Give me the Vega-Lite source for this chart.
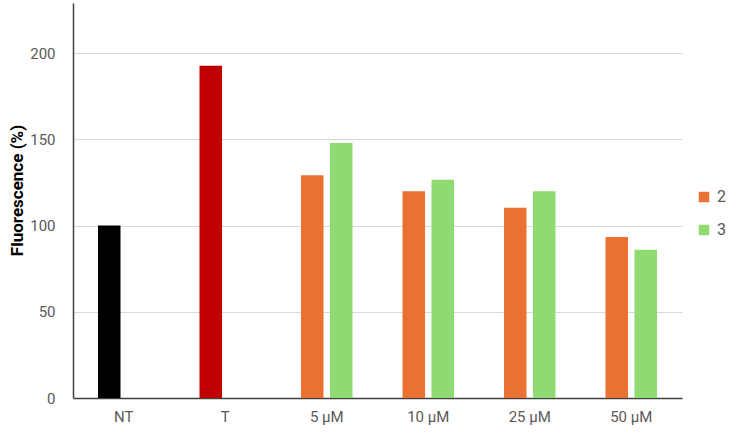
{
  "$schema": "https://vega.github.io/schema/vega-lite/v6.json",
  "width": 609,
  "height": 395,
  "autosize": {"type": "none"},
  "padding": {"left": 73, "top": 3, "right": 55, "bottom": 35},
  "background": "white",
  "config": {
    "view": {"stroke": null},
    "font": "Roboto"
  },
  "data": {
    "values": [
      {"category": "NT", "series": "NT", "slot": "a", "value": 100},
      {"category": "T", "series": "T", "slot": "a", "value": 192.6},
      {"category": "5 µM", "series": "2", "slot": "a", "value": 129.1},
      {"category": "5 µM", "series": "3", "slot": "b", "value": 147.9},
      {"category": "10 µM", "series": "2", "slot": "a", "value": 119.8},
      {"category": "10 µM", "series": "3", "slot": "b", "value": 126.6},
      {"category": "25 µM", "series": "2", "slot": "a", "value": 110.3},
      {"category": "25 µM", "series": "3", "slot": "b", "value": 119.8},
      {"category": "50 µM", "series": "2", "slot": "a", "value": 93.4},
      {"category": "50 µM", "series": "3", "slot": "b", "value": 85.9}
    ]
  },
  "mark": {"type": "bar"},
  "encoding": {
    "x": {
      "field": "category",
      "type": "nominal",
      "sort": ["NT", "T", "5 µM", "10 µM", "25 µM", "50 µM"],
      "scale": {"paddingInner": 0, "paddingOuter": 0},
      "axis": {
        "title": null,
        "labelAngle": 0,
        "ticks": false,
        "labelPadding": 11,
        "labelFontSize": 15,
        "labelColor": "#595959",
        "domainColor": "#404040",
        "domainWidth": 1.5
      }
    },
    "xOffset": {
      "field": "slot",
      "type": "nominal",
      "scale": {"domain": ["a", "b"], "paddingInner": 0.224, "paddingOuter": 0.862}
    },
    "y": {
      "field": "value",
      "type": "quantitative",
      "scale": {"domain": [0, 229], "nice": false},
      "axis": {
        "title": "Fluorescence (%)",
        "values": [0, 50, 100, 150, 200],
        "ticks": false,
        "labelPadding": 18,
        "labelFontSize": 15,
        "labelColor": "#595959",
        "gridColor": "#d9d9d9",
        "domainColor": "#404040",
        "domainWidth": 1.5,
        "titleFontSize": 17,
        "titleFontWeight": "bold",
        "titleColor": "#000000",
        "titleX": -56,
        "titleY": 187,
        "titleAngle": -90,
        "titleAlign": "center",
        "titleBaseline": "middle"
      }
    },
    "color": {
      "field": "series",
      "type": "nominal",
      "scale": {
        "domain": ["NT", "T", "2", "3"],
        "range": ["#000000", "#C00000", "#EB7132", "#8FDB71"]
      },
      "legend": {
        "title": null,
        "values": ["2", "3"],
        "orient": "none",
        "legendX": 623,
        "legendY": 186,
        "symbolType": "square",
        "symbolSize": 110,
        "symbolStrokeWidth": 0,
        "labelFontSize": 16,
        "labelColor": "#595959",
        "rowPadding": 17,
        "labelOffset": 5
      }
    }
  }
}
